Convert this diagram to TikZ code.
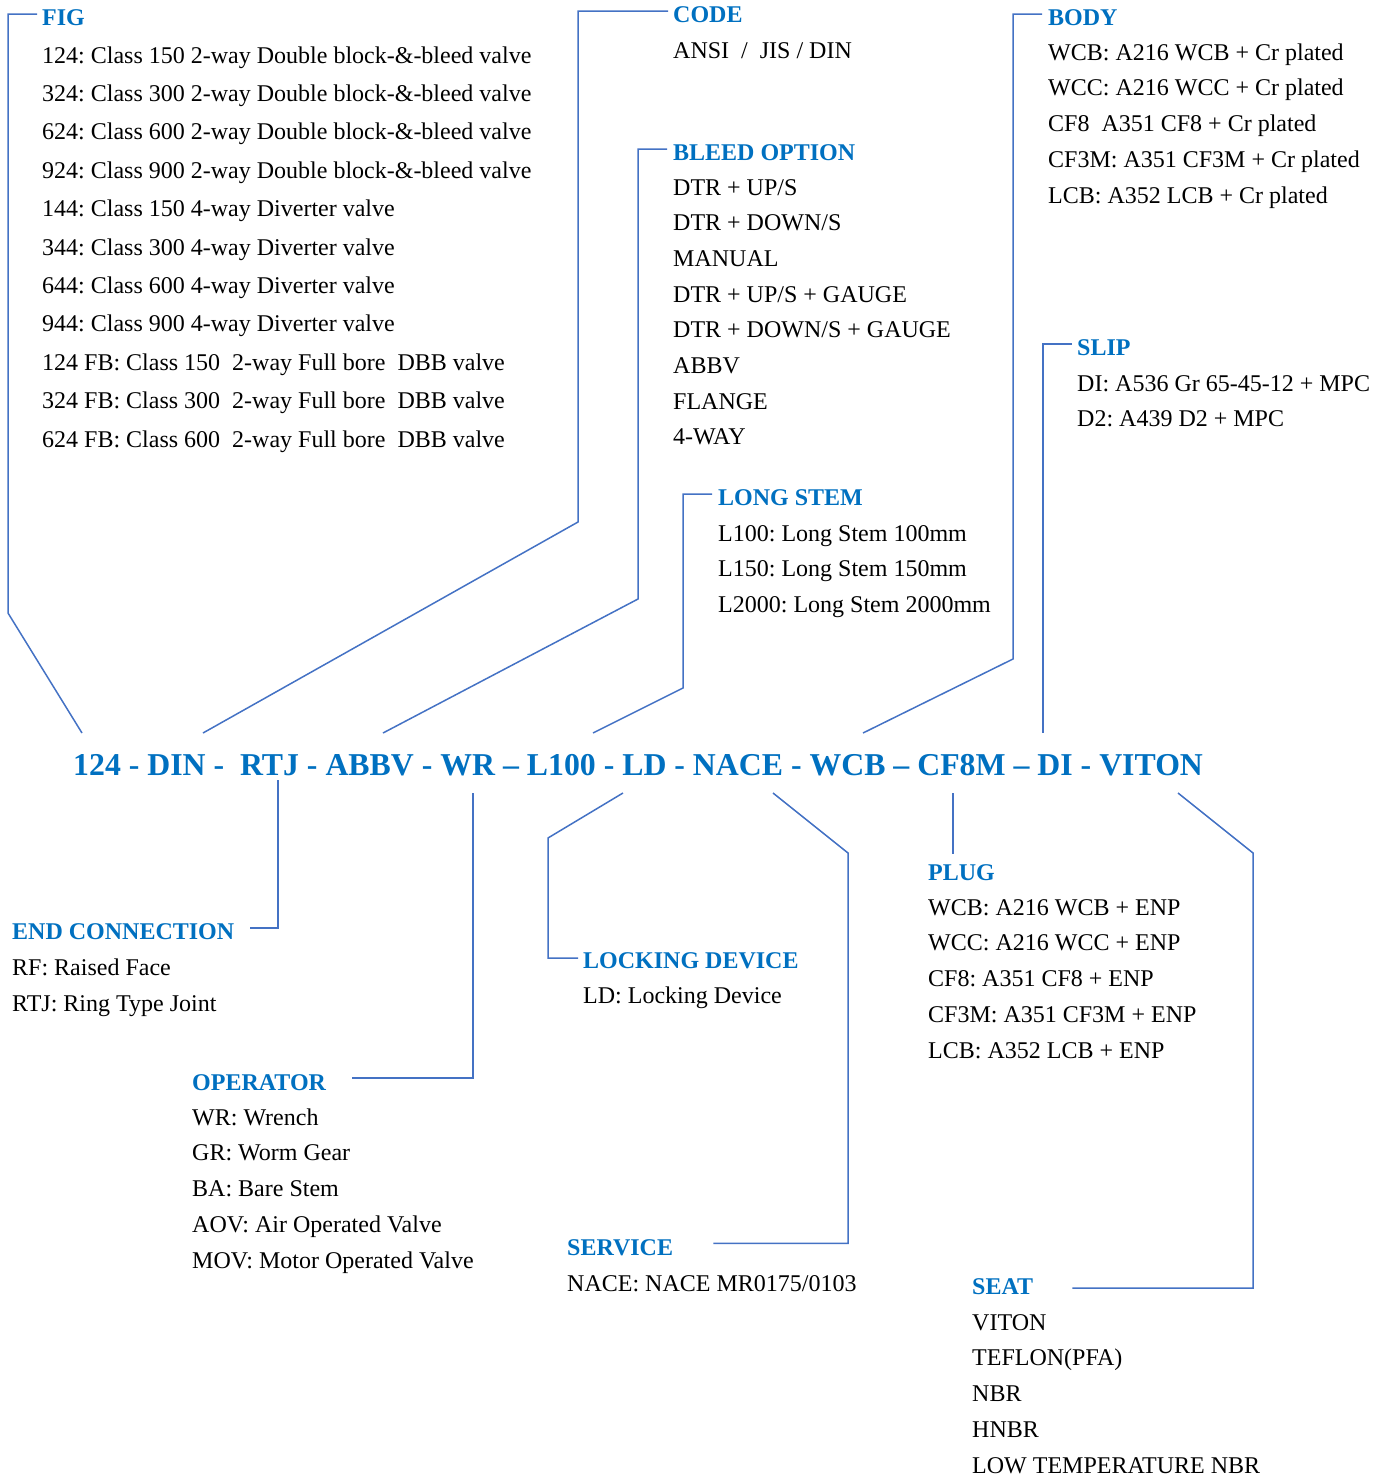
\documentclass[tikz,border=0pt]{standalone}
\usepackage{fontspec}
\setmainfont{Liberation Serif}
\usetikzlibrary{positioning}
\definecolor{headblue}{HTML}{0070C0}
\definecolor{lineblue}{HTML}{4472C4}
\frenchspacing

\begin{document}
\begin{tikzpicture}[x=1pt, y=-1pt,
    head/.style={font=\fontsize{24}{29}\selectfont\bfseries, text=headblue, anchor=base west, inner sep=0pt},
    item/.style={font=\fontsize{24}{29}\selectfont, anchor=base west, inner sep=0pt},
    link/.style={draw=lineblue, line width=1.5pt},
]
\useasboundingbox (0,0) rectangle (1387,1476);

% the order code
\node (code) [head, font=\fontsize{31.8}{38}\selectfont\bfseries] at (73,775)
    {124 - DIN -\ \ RTJ - ABBV - WR – L100 - LD - NACE - WCB – CF8M – DI - VITON};

% ends of the leader lines at the code
\coordinate (figEnd) at (82,733);
\coordinate (codeEnd) at (203,733);
\coordinate (bleedEnd) at (383,733);
\coordinate (stemEnd) at (593,733);
\coordinate (bodyEnd) at (863,733);
\coordinate (slipEnd) at (1043,733);
\coordinate (endStart) at (278,780);
\coordinate (opStart) at (473,793);
\coordinate (lockStart) at (623,793);
\coordinate (servStart) at (773,793);
\coordinate (plugStart) at (953,793);
\coordinate (seatStart) at (1178,793);

% bends
\coordinate (figBend) at (8,613);
\coordinate (codeBend) at (578,522);
\coordinate (bleedBend) at (638,599);
\coordinate (stemBend) at (683,688);
\coordinate (bodyBend) at (1013,659);
\coordinate (lockBend) at (548,838);
\coordinate (servBend) at (848,853);
\coordinate (seatBend) at (1253,853);

% upper blocks
\node (figHead) [head] at (42,25) {FIG};
\foreach \t [count=\i] in {
    {124: Class 150 2-way Double block-\&-bleed valve},
    {324: Class 300 2-way Double block-\&-bleed valve},
    {624: Class 600 2-way Double block-\&-bleed valve},
    {924: Class 900 2-way Double block-\&-bleed valve},
    {144: Class 150 4-way Diverter valve},
    {344: Class 300 4-way Diverter valve},
    {644: Class 600 4-way Diverter valve},
    {944: Class 900 4-way Diverter valve},
    {124 FB: Class 150\ \ 2-way Full bore\ \ DBB valve},
    {324 FB: Class 300\ \ 2-way Full bore\ \ DBB valve},
    {624 FB: Class 600\ \ 2-way Full bore\ \ DBB valve}}
    \node (fig\i) [item] at (42,{63+(\i-1)*38.4}) {\t};

\node (codeHead) [head] at (673,22) {CODE};
\node (code1) [item] at (673,58) {ANSI\ \ /\ \ JIS / DIN};

\node (bleedHead) [head] at (673,160) {BLEED OPTION};
\foreach \t [count=\i] in {{DTR + UP/S}, {DTR + DOWN/S}, {MANUAL}, {DTR + UP/S + GAUGE},
    {DTR + DOWN/S + GAUGE}, {ABBV}, {FLANGE}, {4-WAY}}
    \node (bleed\i) [item] at (673,{195+(\i-1)*35.7}) {\t};

\node (stemHead) [head] at (718,505) {LONG STEM};
\foreach \t [count=\i] in {{L100: Long Stem 100mm}, {L150: Long Stem 150mm}, {L2000: Long Stem 2000mm}}
    \node (stem\i) [item] at (718,{541+(\i-1)*35.5}) {\t};

\node (bodyHead) [head] at (1048,25) {BODY};
\foreach \t [count=\i] in {{WCB: A216 WCB + Cr plated}, {WCC: A216 WCC + Cr plated},
    {CF8\ \ A351 CF8 + Cr plated}, {CF3M: A351 CF3M + Cr plated}, {LCB: A352 LCB + Cr plated}}
    \node (body\i) [item] at (1048,{60+(\i-1)*35.75}) {\t};

\node (slipHead) [head] at (1077,355) {SLIP};
\foreach \t [count=\i] in {{DI: A536 Gr 65-45-12 + MPC}, {D2: A439 D2 + MPC}}
    \node (slip\i) [item] at (1077,{391+(\i-1)*35}) {\t};

% lower blocks
\node (endHead) [head] at (12,939) {END CONNECTION};
\foreach \t [count=\i] in {{RF: Raised Face}, {RTJ: Ring Type Joint}}
    \node (end\i) [item] at (12,{975+(\i-1)*36}) {\t};

\node (opHead) [head] at (192,1090) {OPERATOR};
\foreach \t [count=\i] in {{WR: Wrench}, {GR: Worm Gear}, {BA: Bare Stem},
    {AOV: Air Operated Valve}, {MOV: Motor Operated Valve}}
    \node (op\i) [item] at (192,{1125+(\i-1)*35.75}) {\t};

\node (lockHead) [head] at (583,968) {LOCKING DEVICE};
\node (lock1) [item] at (583,1003) {LD: Locking Device};

\node (servHead) [head] at (567,1255) {SERVICE};
\node (serv1) [item] at (567,1291) {NACE: NACE MR0175/0103};

\node (plugHead) [head] at (928,880) {PLUG};
\foreach \t [count=\i] in {{WCB: A216 WCB + ENP}, {WCC: A216 WCC + ENP}, {CF8: A351 CF8 + ENP},
    {CF3M: A351 CF3M + ENP}, {LCB: A352 LCB + ENP}}
    \node (plug\i) [item] at (928,{915+(\i-1)*35.75}) {\t};

\node (seatHead) [head] at (972,1294) {SEAT};
\foreach \t [count=\i] in {{VITON}, {TEFLON(PFA)}, {NBR}, {HNBR}, {LOW TEMPERATURE NBR}}
    \node (seat\i) [item] at (972,{1330+(\i-1)*35.75}) {\t};

% leader lines
\draw[link] ([shift={(-5,-3)}]figHead.west) -| (figBend) -- (figEnd);
\draw[link] ([shift={(-5,-3)}]codeHead.west) -| (codeBend) -- (codeEnd);
\draw[link] ([shift={(-6,-3)}]bleedHead.west) -| (bleedBend) -- (bleedEnd);
\draw[link] ([shift={(-6,-3)}]stemHead.west) -| (stemBend) -- (stemEnd);
\draw[link] ([shift={(-6,-3)}]bodyHead.west) -| (bodyBend) -- (bodyEnd);
\draw[link] ([shift={(-5,-3)}]slipHead.west) -| (slipEnd);
\draw[link] (endStart) |- ([shift={(16,-3)}]endHead.east);
\draw[link] (opStart) |- ([shift={(26,-4)}]opHead.east);
\draw[link] (lockStart) -- (lockBend) |- ([shift={(-5,-2)}]lockHead.west);
\draw[link] (servStart) -- (servBend) |- ([shift={(40,-4)}]servHead.east);
\draw[link, shorten >=10pt] (plugStart) -- (plugStart |- plugHead.north);
\draw[link] (seatStart) -- (seatBend) |- ([shift={(39,2)}]seatHead.east);
\end{tikzpicture}
\end{document}
